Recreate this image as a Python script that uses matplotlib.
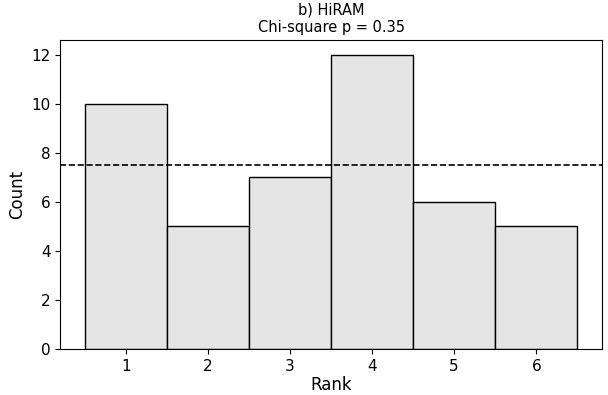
import matplotlib
matplotlib.use('Agg')
import matplotlib.pyplot as plt
import numpy as np

ranks = [1, 2, 3, 4, 5, 6]
counts = [10, 5, 7, 12, 6, 5]
expected = np.mean(counts)

fig, ax = plt.subplots(figsize=(6.08, 3.95), dpi=100)
ax.bar(ranks, counts, width=1.0, color='#e5e5e5', edgecolor='black', linewidth=1.0)
ax.axhline(expected, color='black', linestyle='--', linewidth=1.2)

ax.set_xticks(ranks)
ax.tick_params(labelsize=11)
ax.set_xlabel('Rank', fontsize=12, labelpad=2)
ax.set_ylabel('Count', fontsize=12)
ax.set_title('b) HiRAM\nChi-square p = 0.35', fontsize=10.5)

plt.subplots_adjust(left=0.099, right=0.99, top=0.898, bottom=0.117)
fig.savefig('out.png', dpi=100)
